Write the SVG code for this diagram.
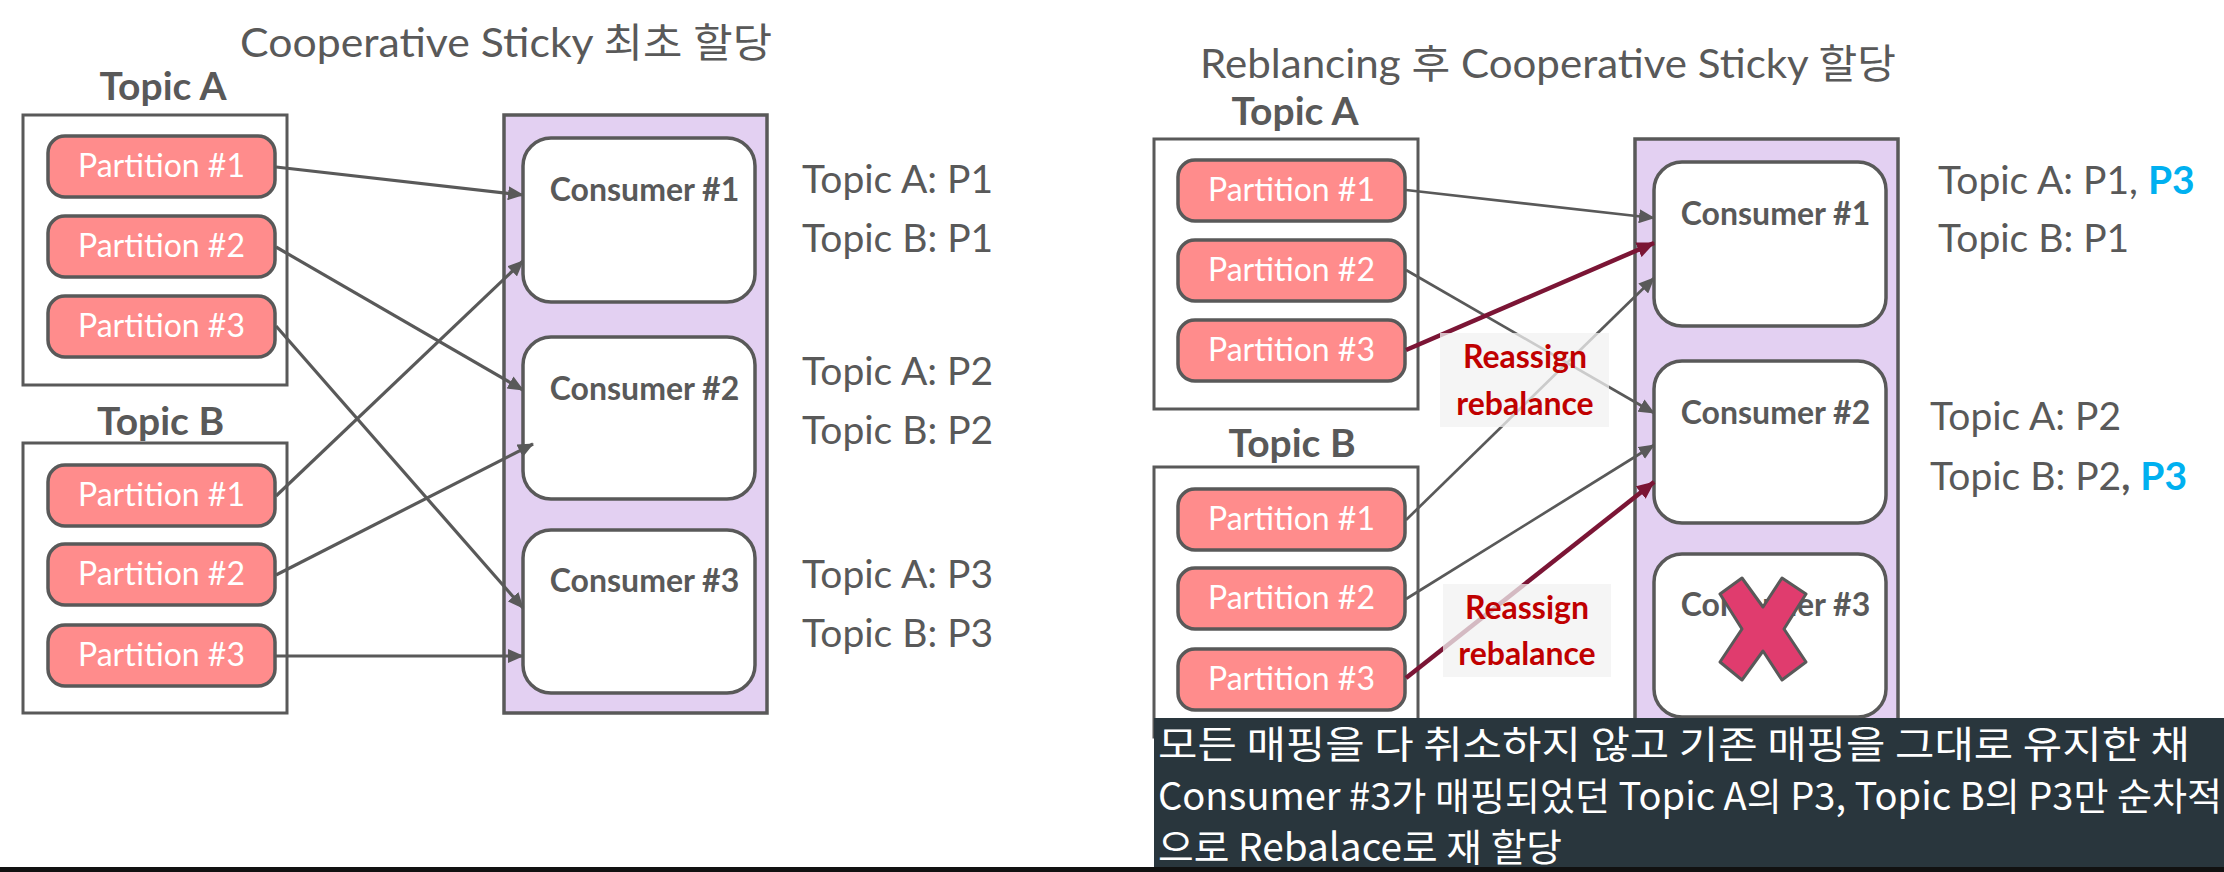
<svg xmlns="http://www.w3.org/2000/svg" width="2224" height="872" viewBox="0 0 2224 872">
<defs>
<style>
.bg{fill:#ffffff}
.title{font-family:Lato,"Noto Sans CJK KR",sans-serif;font-size:40px;fill:#595959}
.topic{font-family:Lato,"Noto Sans CJK KR",sans-serif;font-size:39px;font-weight:bold;fill:#595959;text-anchor:middle}
.tbox{fill:#ffffff;stroke:#595959;stroke-width:3}
.part{fill:#FF8C8C;stroke:#595959;stroke-width:3.5}
.ptxt{font-family:Lato,sans-serif;font-size:32px;fill:#ffffff;text-anchor:middle}
.group{fill:#E3D0F2;stroke:#595959;stroke-width:3.5}
.cons{fill:#ffffff;stroke:#595959;stroke-width:3.5}
.ctxt{font-family:Lato,sans-serif;font-size:32px;font-weight:bold;fill:#595959;text-anchor:middle}
.info{font-family:Lato,sans-serif;font-size:39px;fill:#595959}
.hl{fill:#00B0F0;font-weight:bold}
.edge{stroke:#595959;stroke-width:3.2;fill:none}
.edge2{stroke:#595959;stroke-width:2.7;fill:none}
.red{stroke:#7B1535;stroke-width:4.5;fill:none}
.lblbg{fill:#F2F2F2;fill-opacity:0.75}
.lbl{font-family:Lato,sans-serif;font-size:32px;font-weight:bold;fill:#C00000;text-anchor:middle}
.cap{font-family:"Noto Sans CJK KR",sans-serif;font-size:38px;fill:#ffffff}
</style>
<marker id="ah" markerUnits="userSpaceOnUse" markerWidth="16" markerHeight="14" refX="15" refY="7" orient="auto">
<path d="M0,0 L16,7 L0,14 z" fill="#595959"/>
</marker>
<marker id="ahr" markerUnits="userSpaceOnUse" markerWidth="18" markerHeight="16" refX="17" refY="8" orient="auto">
<path d="M0,0 L18,8 L0,16 z" fill="#7B1535"/>
</marker>
</defs>
<rect class="bg" x="0" y="0" width="2224" height="872"/>

<!-- LEFT -->
<text id="title-left" class="title" x="240" y="57" textLength="532" lengthAdjust="spacingAndGlyphs">Cooperative Sticky 최초 할당</text>

<g id="topicA-left">
<text class="topic" x="163" y="100">Topic A</text>
<rect class="tbox" x="23" y="115" width="264" height="270"/>
</g>
<g id="topicB-left">
<text class="topic" x="160.5" y="435">Topic B</text>
<rect class="tbox" x="23" y="443" width="264" height="270"/>
</g>
<g id="left-A-p1"><rect class="part" x="48" y="136" width="227" height="61" rx="17"/><text class="ptxt" x="161.5" y="177">Partition #1</text></g>
<g id="left-A-p2"><rect class="part" x="48" y="216" width="227" height="61" rx="17"/><text class="ptxt" x="161.5" y="257">Partition #2</text></g>
<g id="left-A-p3"><rect class="part" x="48" y="296" width="227" height="61" rx="17"/><text class="ptxt" x="161.5" y="337">Partition #3</text></g>
<g id="left-B-p1"><rect class="part" x="48" y="465" width="227" height="61" rx="17"/><text class="ptxt" x="161.5" y="506">Partition #1</text></g>
<g id="left-B-p2"><rect class="part" x="48" y="544" width="227" height="61" rx="17"/><text class="ptxt" x="161.5" y="585">Partition #2</text></g>
<g id="left-B-p3"><rect class="part" x="48" y="625" width="227" height="61" rx="17"/><text class="ptxt" x="161.5" y="666">Partition #3</text></g>

<g id="group-left"><rect class="group" x="504" y="115" width="263" height="598"/></g>
<g id="left-c1"><rect class="cons" x="523" y="138" width="232" height="164" rx="28"/><text class="ctxt" x="644.5" y="201">Consumer #1</text></g>
<g id="left-c2"><rect class="cons" x="523" y="337" width="232" height="162" rx="28"/><text class="ctxt" x="644.5" y="400">Consumer #2</text></g>
<g id="left-c3"><rect class="cons" x="523" y="530" width="232" height="163" rx="28"/><text class="ctxt" x="644.5" y="592">Consumer #3</text></g>

<g id="info-left">
<text class="info" x="802" y="193">Topic A: P1</text>
<text class="info" x="802" y="252">Topic B: P1</text>
<text class="info" x="802" y="385">Topic A: P2</text>
<text class="info" x="802" y="444">Topic B: P2</text>
<text class="info" x="802" y="588">Topic A: P3</text>
<text class="info" x="802" y="647">Topic B: P3</text>
</g>

<g id="connectors-left">
<line class="edge" x1="276" y1="167" x2="523" y2="195" marker-end="url(#ah)"/>
<line class="edge" x1="276" y1="247" x2="523" y2="390" marker-end="url(#ah)"/>
<line class="edge" x1="276" y1="326" x2="523" y2="608" marker-end="url(#ah)"/>
<line class="edge" x1="276" y1="496" x2="523" y2="261" marker-end="url(#ah)"/>
<line class="edge" x1="276" y1="575" x2="533" y2="444" marker-end="url(#ah)"/>
<line class="edge" x1="276" y1="656" x2="523" y2="656" marker-end="url(#ah)"/>
</g>

<!-- RIGHT -->
<text id="title-right" class="title" x="1200" y="78" textLength="696" lengthAdjust="spacingAndGlyphs">Reblancing 후 Cooperative Sticky 할당</text>

<g id="topicA-right">
<text class="topic" x="1295" y="125">Topic A</text>
<rect class="tbox" x="1154" y="139" width="264" height="270"/>
</g>
<g id="topicB-right">
<text class="topic" x="1292" y="457">Topic B</text>
<rect class="tbox" x="1154" y="467" width="264" height="270"/>
</g>
<g id="right-A-p1"><rect class="part" x="1178" y="160" width="227" height="61" rx="17"/><text class="ptxt" x="1291.5" y="201">Partition #1</text></g>
<g id="right-A-p2"><rect class="part" x="1178" y="240" width="227" height="61" rx="17"/><text class="ptxt" x="1291.5" y="281">Partition #2</text></g>
<g id="right-A-p3"><rect class="part" x="1178" y="320" width="227" height="61" rx="17"/><text class="ptxt" x="1291.5" y="361">Partition #3</text></g>
<g id="right-B-p1"><rect class="part" x="1178" y="489" width="227" height="61" rx="17"/><text class="ptxt" x="1291.5" y="530">Partition #1</text></g>
<g id="right-B-p2"><rect class="part" x="1178" y="568" width="227" height="61" rx="17"/><text class="ptxt" x="1291.5" y="609">Partition #2</text></g>
<g id="right-B-p3"><rect class="part" x="1178" y="649" width="227" height="61" rx="17"/><text class="ptxt" x="1291.5" y="690">Partition #3</text></g>

<g id="group-right"><rect class="group" x="1635" y="139" width="263" height="598"/></g>
<g id="right-c1"><rect class="cons" x="1654" y="162" width="232" height="164" rx="28"/><text class="ctxt" x="1775.5" y="225">Consumer #1</text></g>
<g id="right-c2"><rect class="cons" x="1654" y="361" width="232" height="162" rx="28"/><text class="ctxt" x="1775.5" y="424">Consumer #2</text></g>
<g id="right-c3"><rect class="cons" x="1654" y="554" width="232" height="163" rx="28"/><text class="ctxt" x="1775.5" y="616">Consumer #3</text>
<polygon points="1742,578 1763,607 1782,578 1806,594 1784,629 1806,662 1782,680 1763,651 1742,680 1720,662 1742,629 1720,594" fill="#E03C6E" stroke="#595959" stroke-width="3" stroke-linejoin="round"/>
</g>

<g id="info-right">
<text class="info" x="1938" y="194">Topic A: P1, <tspan class="hl">P3</tspan></text>
<text class="info" x="1938" y="252">Topic B: P1</text>
<text class="info" x="1930" y="430">Topic A: P2</text>
<text class="info" x="1930" y="490">Topic B: P2<tspan font-weight="bold">,</tspan> <tspan class="hl">P3</tspan></text>
</g>

<g id="connectors-right">
<line class="edge2" x1="1406" y1="190" x2="1654" y2="218" marker-end="url(#ah)"/>
<line class="edge2" x1="1406" y1="270" x2="1654" y2="413" marker-end="url(#ah)"/>
<line class="edge2" x1="1406" y1="520" x2="1654" y2="278" marker-end="url(#ah)"/>
<line class="edge2" x1="1406" y1="599" x2="1654" y2="445" marker-end="url(#ah)"/>
<line class="red" x1="1406" y1="350" x2="1654" y2="243" marker-end="url(#ahr)"/>
<line class="red" x1="1406" y1="678" x2="1654" y2="482" marker-end="url(#ahr)"/>
</g>

<g id="label-reassign-1">
<rect class="lblbg" x="1440" y="333" width="169" height="94"/>
<text class="lbl" x="1525" y="368">Reassign</text>
<text class="lbl" x="1525" y="415">rebalance</text>
</g>
<g id="label-reassign-2">
<rect class="lblbg" x="1443" y="584" width="168" height="93"/>
<text class="lbl" x="1527" y="619">Reassign</text>
<text class="lbl" x="1527" y="665">rebalance</text>
</g>

<g id="caption">
<rect x="1154" y="718" width="1070" height="150" fill="#29363D"/>
<text class="cap" x="1158" y="758" textLength="1032" lengthAdjust="spacingAndGlyphs">모든 매핑을 다 취소하지 않고 기존 매핑을 그대로 유지한 채</text>
<text class="cap" x="1158" y="810" textLength="1064" lengthAdjust="spacingAndGlyphs">Consumer #3가 매핑되었던 Topic A의 P3, Topic B의 P3만 순차적</text>
<text class="cap" x="1158" y="861" textLength="404" lengthAdjust="spacingAndGlyphs">으로 Rebalace로 재 할당</text>
</g>
<rect x="0" y="867" width="2224" height="5" fill="#111111"/>
</svg>
